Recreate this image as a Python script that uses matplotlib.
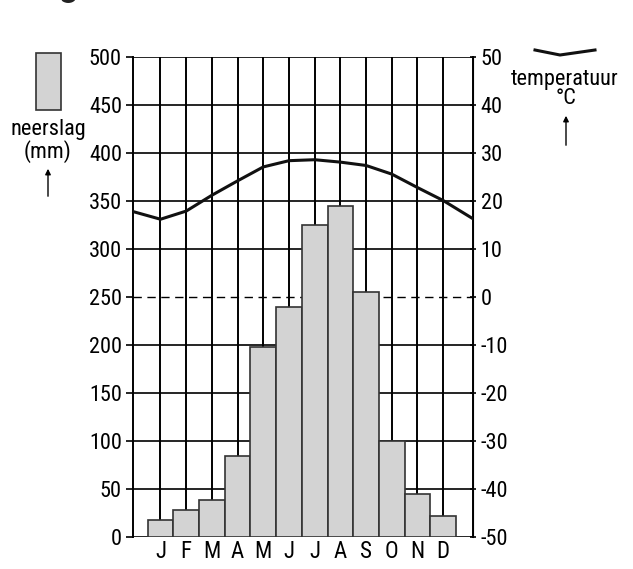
import matplotlib.pyplot as plt
import matplotlib.font_manager as fm

months = ['J', 'F', 'M', 'A', 'M', 'J', 'J', 'A', 'S', 'O', 'N', 'D']
neerslag = [18, 28, 39, 84, 198, 240, 325, 345, 255, 100, 45, 22]
temperatuur = [16.2, 17.9, 21.2, 24.2, 27.1, 28.4, 28.6, 28.1, 27.4, 25.6, 22.8, 20.1]
temp_rand = [17.8, 16.3]  # waarde aan linker en rechter rand

names = {f.name for f in fm.fontManager.ttflist}
fam = 'Liberation Sans'
for kand in ['Liberation Sans Narrow', 'Arial Narrow', 'Roboto Condensed']:
    if kand in names:
        fam = kand
        break
plt.rcParams['font.family'] = [fam, 'DejaVu Sans']
plt.rcParams['font.size'] = 16
plt.rcParams['axes.unicode_minus'] = False

fig = plt.figure(figsize=(6.33, 5.69), dpi=100)
ax = fig.add_axes([133 / 633, 1 - 537 / 569, 340 / 633, 480 / 569])

x = list(range(12))
xmin, xmax = -1.07, 12.16

# verticale lijnen op het midden van elke maand
for xi in x:
    ax.axvline(xi, color='black', lw=1.4, zorder=1)
for yv in range(0, 501, 50):
    if yv == 250:
        ax.axhline(yv, color='black', lw=1.0, ls=(0, (6, 4)), zorder=1)
    else:
        ax.axhline(yv, color='black', lw=1.2, zorder=1)

ax.bar(x, neerslag, width=1.0, color='#d3d3d3', edgecolor='#333333', lw=1.2, zorder=2)

ax.set_xlim(xmin, xmax)
ax.set_ylim(0, 500)
ax.set_yticks(range(0, 501, 50))
ax.set_xticks(x)
ax.set_xticklabels(months, fontsize=16.5)
ax.tick_params(axis='x', length=0, pad=2)
ax.tick_params(axis='y', length=5, width=1.2, direction='out', pad=3)
for s in ['top', 'bottom']:
    ax.spines[s].set_visible(False)
ax.spines['left'].set_linewidth(1.4)

ax2 = ax.twinx()
ax2.set_ylim(-50, 50)
ax2.set_yticks(range(-50, 51, 10))
ax2.tick_params(axis='y', length=5, width=1.2, direction='inout', pad=3)
for s in ['top', 'bottom', 'left']:
    ax2.spines[s].set_visible(False)
ax2.spines['right'].set_linewidth(1.4)
tx = [xmin] + x + [xmax]
ty = [temp_rand[0]] + temperatuur + [temp_rand[1]]
ax2.plot(tx, ty, color='#111111', lw=2.2, zorder=3)

# stukje van de titel dat nog zichtbaar is
fig.text(68 / 633, 1 + 5 / 569, 'g', ha='center', va='baseline', fontsize=28,
         fontweight='bold', color='#222222')

# legenda links
fig.patches.append(plt.Rectangle((36 / 633, 1 - 110 / 569), 25 / 633, 57 / 569,
                                 transform=fig.transFigure, facecolor='#d3d3d3',
                                 edgecolor='#333333', lw=1.2))
fig.text(48 / 633, 1 - 129 / 569, 'neerslag', ha='center', va='center')
fig.text(48 / 633, 1 - 152 / 569, '(mm)', ha='center', va='center')
ax.annotate('', xy=(48 / 633, 1 - 166 / 569), xytext=(48 / 633, 1 - 199 / 569),
            xycoords='figure fraction',
            arrowprops=dict(arrowstyle='-|>', color='black', lw=1.0, mutation_scale=8))

# legenda rechts
fig.add_artist(plt.Line2D([535 / 633, 560 / 633, 595 / 633],
                          [1 - 50 / 569, 1 - 55 / 569, 1 - 50 / 569],
                          color='#111111', lw=2.2))
fig.text(565 / 633, 1 - 80 / 569, 'temperatuur', ha='center', va='center')
fig.text(566 / 633, 1 - 99 / 569, '\u00b0C', ha='center', va='center')
ax.annotate('', xy=(566 / 633, 1 - 113 / 569), xytext=(566 / 633, 1 - 148 / 569),
            xycoords='figure fraction',
            arrowprops=dict(arrowstyle='-|>', color='black', lw=1.0, mutation_scale=8))

fig.savefig('out.png', dpi=100)
